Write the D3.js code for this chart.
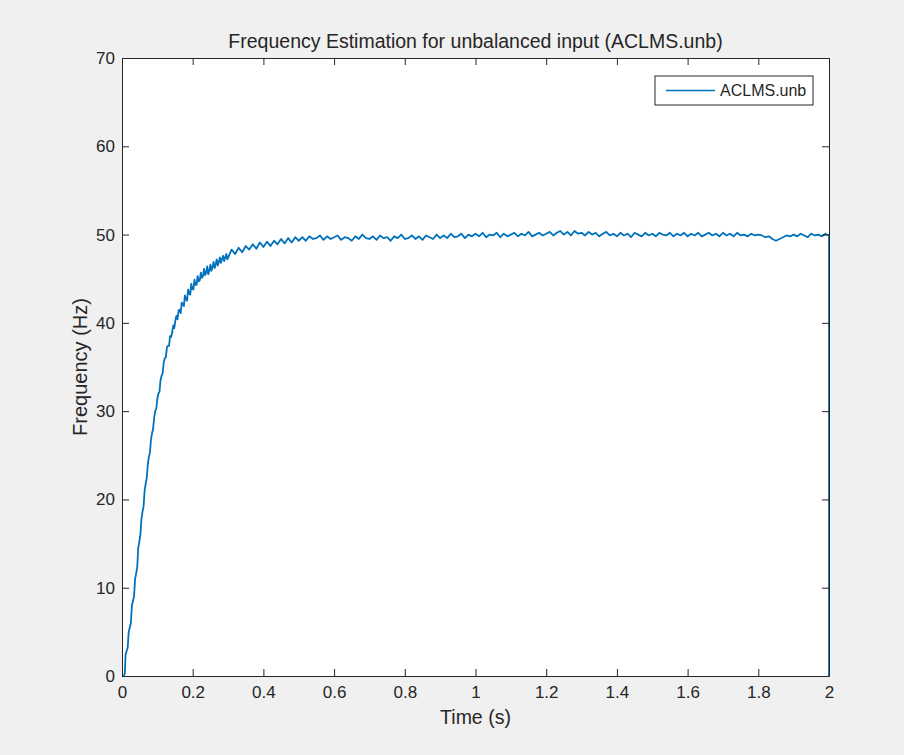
<!DOCTYPE html>
<html>
<head>
<meta charset="utf-8">
<script src="https://cdn.jsdelivr.net/npm/d3@7"></script>
<style>
  body { margin: 0; background: #f0f0f0; }
  svg { display: block; }
  text { font-family: "Liberation Sans", Arial, Helvetica, sans-serif; fill: #262626; }
</style>
</head>
<body>
<svg id="chart" width="904" height="755"></svg>
<script>
var titleText = 'Frequency Estimation for unbalanced input (ACLMS.unb)';
var seriesName = 'ACLMS.unb';
var xTicks = [0, 0.2, 0.4, 0.6, 0.8, 1, 1.2, 1.4, 1.6, 1.8, 2];
var yTicks = [0, 10, 20, 30, 40, 50, 60, 70];

// start-up part (stair steps, then sawtooth)
var riseTime = [0.005, 0.008, 0.010, 0.013, 0.016, 0.019, 0.022, 0.025, 0.028, 0.031,
  0.034, 0.037, 0.040, 0.043, 0.046, 0.049, 0.052, 0.055, 0.058, 0.061,
  0.064, 0.067, 0.070, 0.073, 0.076, 0.079, 0.082, 0.085, 0.088, 0.091,
  0.094, 0.097, 0.100, 0.103, 0.106, 0.109, 0.112, 0.115, 0.118, 0.121,
  0.124, 0.127, 0.130, 0.133, 0.136, 0.139, 0.142, 0.145, 0.148, 0.151,
  0.154, 0.157, 0.160, 0.163, 0.166, 0.169, 0.172, 0.175, 0.178, 0.181,
  0.184, 0.187, 0.190, 0.193, 0.196, 0.199, 0.202, 0.205, 0.208, 0.211,
  0.214, 0.217, 0.220, 0.223, 0.226, 0.229, 0.232, 0.235, 0.238, 0.241,
  0.244, 0.247, 0.250, 0.253, 0.256, 0.259, 0.262, 0.265, 0.268, 0.271,
  0.274, 0.277, 0.280, 0.283, 0.286, 0.289, 0.292, 0.295, 0.298];
var riseFreq = [0, 0.3, 2.4, 2.8, 3.2, 5.0, 5.5, 6.0, 8.0, 8.5,
  9.0, 11.0, 11.6, 12.3, 14.5, 15.2, 16.0, 17.8, 18.6, 19.2,
  21.0, 21.8, 22.4, 24.0, 24.8, 25.3, 26.8, 27.5, 28.0, 29.3,
  30.0, 30.3, 31.4, 32.0, 32.2, 33.5, 34.0, 34.3, 35.5, 36.0,
  36.1, 37.2, 37.4, 37.4, 38.5, 38.4, 38.9, 39.7, 39.4, 40.3,
  40.8, 40.4, 41.4, 41.5, 41.1, 42.3, 42.1, 41.9, 43.1, 42.7,
  42.5, 43.8, 43.3, 43.2, 44.4, 43.8, 43.8, 44.9, 44.3, 44.3,
  45.3, 44.7, 44.8, 45.7, 45.1, 45.3, 46.1, 45.4, 45.7, 46.4,
  45.5, 45.9, 46.6, 45.9, 46.3, 46.9, 46.2, 46.6, 47.2, 46.5,
  46.9, 47.4, 46.8, 47.2, 47.6, 47.0, 47.4, 47.8, 47.2];

// settled part, sampled every 10 ms
var plateauTime = [0.31, 0.32, 0.33, 0.34, 0.35, 0.36, 0.37, 0.38, 0.39, 0.40,
  0.41, 0.42, 0.43, 0.44, 0.45, 0.46, 0.47, 0.48, 0.49, 0.50,
  0.51, 0.52, 0.53, 0.54, 0.55, 0.56, 0.57, 0.58, 0.59, 0.60,
  0.61, 0.62, 0.63, 0.64, 0.65, 0.66, 0.67, 0.68, 0.69, 0.70,
  0.71, 0.72, 0.73, 0.74, 0.75, 0.76, 0.77, 0.78, 0.79, 0.80,
  0.81, 0.82, 0.83, 0.84, 0.85, 0.86, 0.87, 0.88, 0.89, 0.90,
  0.91, 0.92, 0.93, 0.94, 0.95, 0.96, 0.97, 0.98, 0.99, 1.00,
  1.01, 1.02, 1.03, 1.04, 1.05, 1.06, 1.07, 1.08, 1.09, 1.10,
  1.11, 1.12, 1.13, 1.14, 1.15, 1.16, 1.17, 1.18, 1.19, 1.20,
  1.21, 1.22, 1.23, 1.24, 1.25, 1.26, 1.27, 1.28, 1.29, 1.30,
  1.31, 1.32, 1.33, 1.34, 1.35, 1.36, 1.37, 1.38, 1.39, 1.40,
  1.41, 1.42, 1.43, 1.44, 1.45, 1.46, 1.47, 1.48, 1.49, 1.50,
  1.51, 1.52, 1.53, 1.54, 1.55, 1.56, 1.57, 1.58, 1.59, 1.60,
  1.61, 1.62, 1.63, 1.64, 1.65, 1.66, 1.67, 1.68, 1.69, 1.70,
  1.71, 1.72, 1.73, 1.74, 1.75, 1.76, 1.77, 1.78, 1.79, 1.80,
  1.81, 1.82, 1.83, 1.84, 1.85, 1.86, 1.87, 1.88, 1.89, 1.90,
  1.91, 1.92, 1.93, 1.94, 1.95, 1.96, 1.97, 1.98, 1.99, 2.00, 2.00];
var plateauFreq = [48.3, 47.8, 48.5, 48.0, 48.7, 48.3, 48.9, 48.4, 49.1, 48.6,
  49.2, 48.7, 49.3, 48.9, 49.5, 49.0, 49.6, 49.1, 49.7, 49.3,
  49.7, 49.3, 49.8, 49.5, 49.6, 49.9, 49.4, 49.8, 49.5, 49.7,
  49.9, 49.4, 49.7, 49.6, 49.3, 49.8, 49.5, 50.0, 49.6, 49.5,
  49.8, 49.4, 49.9, 49.6, 49.7, 49.3, 49.8, 49.6, 50.0, 49.5,
  49.6, 49.9, 49.5, 49.8, 49.4, 49.9, 49.7, 49.5, 50.0, 49.6,
  49.9, 49.6, 50.1, 49.7, 49.8, 50.1, 49.6, 50.0, 49.8, 50.1,
  49.8, 50.2, 49.7, 50.0, 49.9, 50.2, 49.7, 50.1, 49.8, 50.0,
  50.2, 49.8, 50.1, 49.9, 50.3, 49.8, 50.0, 50.2, 49.9, 50.1,
  50.3, 49.9, 50.2, 50.4, 50.0, 50.3, 49.9, 50.4, 50.1, 50.2,
  49.9, 50.3, 50.0, 50.2, 49.8, 50.1, 50.3, 49.9, 50.1, 49.8,
  50.2, 49.9, 50.1, 49.7, 50.2, 50.0, 49.8, 50.2, 49.9, 50.1,
  49.8, 50.2, 50.0, 49.9, 50.2, 49.8, 50.1, 49.9, 50.2, 49.8,
  50.1, 49.9, 50.2, 49.8, 50.0, 50.2, 49.9, 50.1, 49.8, 50.2,
  49.9, 50.1, 49.8, 50.2, 49.9, 50.0, 49.8, 50.1, 49.9, 50.0,
  49.9, 49.7, 49.8, 49.5, 49.3, 49.5, 49.7, 49.9, 49.8, 50.0,
  49.8, 50.1, 49.9, 49.7, 50.1, 49.9, 50.0, 49.8, 50.1, 49.9, 0];

var data = [];
riseTime.forEach(function(t, i) { data.push({t: t, f: riseFreq[i]}); });
plateauTime.forEach(function(t, i) { data.push({t: t, f: plateauFreq[i]}); });

var svg = d3.select('#chart'),
    margin = {top: 58, right: 75, bottom: 79, left: 122},
    width = +svg.attr('width') - margin.left - margin.right,
    height = +svg.attr('height') - margin.top - margin.bottom,
    g = svg.append('g').attr('transform', 'translate(' + margin.left + ',' + margin.top + ')');

var x = d3.scaleLinear().domain([0, 2]).range([0, width]);
var y = d3.scaleLinear().domain([0, 70]).range([height, 0]);

g.append('rect')
    .attr('width', width)
    .attr('height', height)
    .attr('fill', '#fff');

var line = d3.line()
    .x(function(d) { return x(d.t); })
    .y(function(d) { return y(d.f); });

g.append('path')
    .datum(data)
    .attr('fill', 'none')
    .attr('stroke', '#0072bd')
    .attr('stroke-width', 1.8)
    .attr('stroke-linejoin', 'round')
    .attr('d', line);

function styleAxis(sel) {
    sel.select('.domain').attr('stroke', '#262626');
    sel.selectAll('.tick line').attr('stroke', '#262626');
    sel.selectAll('.tick text').attr('fill', '#262626');
    sel.attr('font-family', '"Liberation Sans", Arial, Helvetica, sans-serif');
}

g.append('g')
    .attr('transform', 'translate(0,' + height + ')')
    .call(d3.axisBottom(x).tickValues(xTicks).tickSizeInner(-7).tickSizeOuter(0).tickPadding(10).tickFormat(d3.format('')))
    .attr('font-size', 17)
    .call(styleAxis);

g.append('g')
    .call(d3.axisTop(x).tickValues(xTicks).tickSizeInner(-7).tickSizeOuter(0).tickFormat(''))
    .call(styleAxis);

g.append('g')
    .call(d3.axisLeft(y).tickValues(yTicks).tickSizeInner(-7).tickSizeOuter(0).tickPadding(7))
    .attr('font-size', 17)
    .call(styleAxis);

g.append('g')
    .attr('transform', 'translate(' + width + ',0)')
    .call(d3.axisRight(y).tickValues(yTicks).tickSizeInner(-7).tickSizeOuter(0).tickFormat(''))
    .call(styleAxis);

svg.append('text')
    .attr('x', margin.left + width / 2)
    .attr('y', 48)
    .attr('text-anchor', 'middle')
    .attr('font-size', 19.5)
    .text(titleText);

svg.append('text')
    .attr('x', margin.left + width / 2)
    .attr('y', 724)
    .attr('text-anchor', 'middle')
    .attr('font-size', 19.5)
    .text('Time (s)');

svg.append('text')
    .attr('transform', 'translate(87,' + (margin.top + height / 2) + ') rotate(-90)')
    .attr('text-anchor', 'middle')
    .attr('font-size', 20)
    .text('Frequency (Hz)');

var legend = g.append('g')
    .attr('transform', 'translate(' + (width - 174) + ',18)');

legend.append('rect')
    .attr('width', 158)
    .attr('height', 29)
    .attr('fill', '#fff')
    .attr('stroke', '#262626');

legend.append('line')
    .attr('x1', 11)
    .attr('x2', 60)
    .attr('y1', 14.5)
    .attr('y2', 14.5)
    .attr('stroke', '#0072bd')
    .attr('stroke-width', 1.6);

legend.append('text')
    .attr('x', 65)
    .attr('y', 14.5)
    .attr('dy', '0.35em')
    .attr('font-size', 16)
    .text(seriesName);
</script>
</body>
</html>
